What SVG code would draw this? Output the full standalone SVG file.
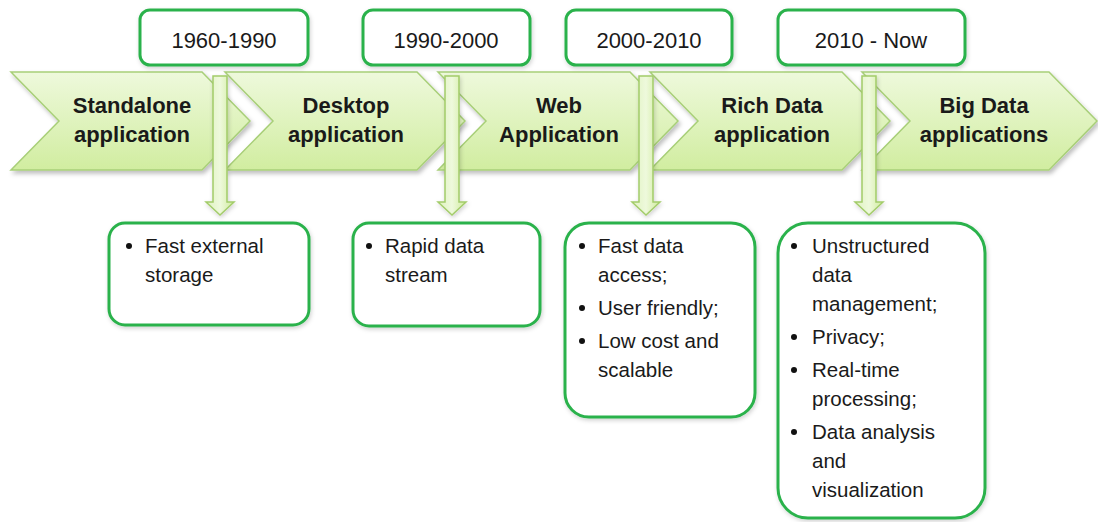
<svg xmlns="http://www.w3.org/2000/svg" width="1098" height="522" viewBox="0 0 1098 522">
  <defs>
    <linearGradient id="chevFill" x1="0" y1="0" x2="0" y2="1">
      <stop offset="0" stop-color="#eef9dc"/>
      <stop offset="1" stop-color="#d1eda0"/>
    </linearGradient>
    <linearGradient id="arrowFill" x1="0" y1="0" x2="1" y2="0">
      <stop offset="0" stop-color="#dff2bf"/>
      <stop offset="0.5" stop-color="#eef9dc"/>
      <stop offset="1" stop-color="#cfeb9c"/>
    </linearGradient>
    <filter id="shadow" x="-10%" y="-10%" width="130%" height="140%">
      <feDropShadow dx="2" dy="3" stdDeviation="2" flood-color="#000" flood-opacity="0.25"/>
    </filter>
    <filter id="softShadow" x="-10%" y="-10%" width="130%" height="130%">
      <feDropShadow dx="1" dy="2" stdDeviation="2" flood-color="#000" flood-opacity="0.18"/>
    </filter>
  </defs>
  <style>
    .chev { fill: url(#chevFill); stroke: #a8cf78; stroke-width: 1.5; filter: url(#shadow); }
    .arrow { fill: url(#arrowFill); stroke: #a3cc6a; stroke-width: 1.5; filter: url(#softShadow); }
    .box { fill: #ffffff; stroke: #2bb24c; stroke-width: 3; filter: url(#softShadow); }
    .title { font-family: "Liberation Sans", Arial, sans-serif; font-weight: bold; font-size: 22px; fill: #1a1a1a; text-anchor: middle; }
    .date { font-family: "Liberation Sans", Arial, sans-serif; font-size: 22px; fill: #1a1a1a; text-anchor: middle; }
    .item { font-family: "Liberation Sans", Arial, sans-serif; font-size: 20.5px; fill: #1a1a1a; }
    .dot { fill: #111111; }
  </style>

  <!-- timeline chevrons -->
  <g id="stage-standalone">
    <polygon class="chev" points="11,72 202,72 250,121 202,170 11,170 59,121"/>
    <text class="title" x="132" y="113">Standalone</text>
    <text class="title" x="132" y="142">application</text>
  </g>
  <g id="stage-desktop">
    <polygon class="chev" points="225,72 417,72 465,121 417,170 225,170 273,121"/>
    <text class="title" x="346" y="113">Desktop</text>
    <text class="title" x="346" y="142">application</text>
  </g>
  <g id="stage-web">
    <polygon class="chev" points="438,72 630,72 678,121 630,170 438,170 486,121"/>
    <text class="title" x="559" y="113">Web</text>
    <text class="title" x="559" y="142">Application</text>
  </g>
  <g id="stage-richdata">
    <polygon class="chev" points="650,72 842,72 890,121 842,170 650,170 698,121"/>
    <text class="title" x="772" y="113">Rich Data</text>
    <text class="title" x="772" y="142">application</text>
  </g>
  <g id="stage-bigdata">
    <polygon class="chev" points="862,72 1049,72 1097,121 1049,170 862,170 910,121"/>
    <text class="title" x="984" y="113">Big Data</text>
    <text class="title" x="984" y="142">applications</text>
  </g>

  <!-- downward connectors from the timeline to the feature boxes -->
  <g id="connectors">
    <polygon class="arrow" points="213,76 227,76 227,202 234,202 220,215 206,202 213,202"/>
    <polygon class="arrow" points="445,76 459,76 459,202 466,202 452,215 438,202 445,202"/>
    <polygon class="arrow" points="639,76 653,76 653,202 660,202 646,215 632,202 639,202"/>
    <polygon class="arrow" points="862,76 876,76 876,202 883,202 869,215 855,202 862,202"/>
  </g>

  <!-- period labels -->
  <g id="period-1960">
    <rect class="box" x="140" y="10" width="168" height="55" rx="10"/>
    <text class="date" x="224" y="48">1960-1990</text>
  </g>
  <g id="period-1990">
    <rect class="box" x="363" y="10" width="167" height="55" rx="10"/>
    <text class="date" x="446" y="48">1990-2000</text>
  </g>
  <g id="period-2000">
    <rect class="box" x="566" y="10" width="166" height="55" rx="10"/>
    <text class="date" x="649" y="48">2000-2010</text>
  </g>
  <g id="period-2010">
    <rect class="box" x="778" y="10" width="187" height="55" rx="10"/>
    <text class="date" x="871" y="48">2010 - Now</text>
  </g>

  <!-- feature boxes -->
  <g id="features-standalone">
    <rect class="box" x="109" y="223" width="200" height="102" rx="16"/>
    <circle class="dot" cx="129" cy="246" r="3"/>
    <text class="item" x="145" y="253">Fast external</text>
    <text class="item" x="145" y="282">storage</text>
  </g>
  <g id="features-desktop">
    <rect class="box" x="353" y="223" width="187" height="103" rx="16"/>
    <circle class="dot" cx="369" cy="246" r="3"/>
    <text class="item" x="385" y="253">Rapid data</text>
    <text class="item" x="385" y="282">stream</text>
  </g>
  <g id="features-web">
    <rect class="box" x="565" y="223" width="190" height="194" rx="24"/>
    <circle class="dot" cx="582" cy="246" r="3"/>
    <text class="item" x="598" y="253">Fast data</text>
    <text class="item" x="598" y="282">access;</text>
    <circle class="dot" cx="582" cy="308" r="3"/>
    <text class="item" x="598" y="315">User friendly;</text>
    <circle class="dot" cx="582" cy="341" r="3"/>
    <text class="item" x="598" y="348">Low cost and</text>
    <text class="item" x="598" y="377">scalable</text>
  </g>
  <g id="features-bigdata">
    <rect class="box" x="778" y="223" width="207" height="295" rx="30"/>
    <circle class="dot" cx="794" cy="246" r="3"/>
    <text class="item" x="812" y="253">Unstructured</text>
    <text class="item" x="812" y="282">data</text>
    <text class="item" x="812" y="311">management;</text>
    <circle class="dot" cx="794" cy="337" r="3"/>
    <text class="item" x="812" y="344">Privacy;</text>
    <circle class="dot" cx="794" cy="370" r="3"/>
    <text class="item" x="812" y="377">Real-time</text>
    <text class="item" x="812" y="406">processing;</text>
    <circle class="dot" cx="794" cy="432" r="3"/>
    <text class="item" x="812" y="439">Data analysis</text>
    <text class="item" x="812" y="468">and</text>
    <text class="item" x="812" y="497">visualization</text>
  </g>
</svg>
